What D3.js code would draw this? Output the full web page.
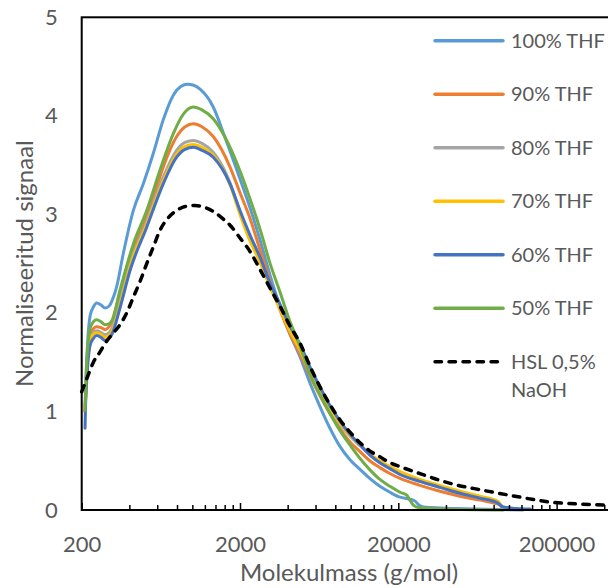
<!DOCTYPE html>
<html>
<head>
<meta charset="utf-8">
<script src="https://cdn.jsdelivr.net/npm/d3@7"></script>
<style>
  html, body { margin: 0; padding: 0; background: #ffffff; }
  svg { display: block; }
  text { font-family: Lato, "Open Sans", sans-serif; fill: #595959; }
</style>
</head>
<body>
<svg id="chart" width="608" height="588"></svg>
<script>
// Molar-mass distributions: [molar mass (g/mol), normalised signal]
const thf100 = [[210,1.05],[214,1.45],[219,1.75],[226,1.97],[237,2.06],[249,2.10],[265,2.08],[281,2.05],[298,2.07],[312,2.13],[333,2.27],[366,2.60],[424,3.04],[490,3.31],[567,3.62],[655,3.96],[758,4.21],[850,4.30],[929,4.32],[1020,4.31],[1118,4.27],[1355,4.09],[1600,3.79],[2000,3.36],[2300,3.08],[2700,2.72],[3100,2.38],[3600,2.05],[4100,1.80],[4800,1.55],[5500,1.30],[6400,1.05],[7400,0.83],[8600,0.64],[9900,0.51],[11500,0.41],[13200,0.32],[15300,0.24],[17700,0.18],[20500,0.13],[23500,0.11],[25500,0.09],[27000,0.05],[29000,0.03],[37000,0.02],[60000,0.01],[123000,0.0]];
const thf90 = [[210,1.00],[214,1.35],[219,1.62],[226,1.78],[237,1.84],[249,1.86],[265,1.85],[281,1.83],[298,1.86],[312,1.92],[349,2.20],[404,2.57],[460,2.78],[515,2.97],[580,3.22],[655,3.48],[796,3.79],[900,3.89],[1014,3.92],[1150,3.89],[1355,3.79],[1730,3.48],[2000,3.22],[2300,2.97],[2700,2.62],[3100,2.32],[3600,2.02],[4100,1.80],[4800,1.58],[5500,1.37],[6400,1.16],[7400,0.98],[8600,0.82],[9900,0.69],[11500,0.59],[13200,0.50],[15300,0.43],[17700,0.37],[20500,0.32],[27400,0.25],[36700,0.19],[49000,0.14],[65700,0.10],[80000,0.07],[88000,0.05],[92000,0.02],[118000,0.01]];
const thf80 = [[210,1.00],[214,1.33],[219,1.60],[226,1.75],[237,1.80],[249,1.82],[265,1.80],[281,1.78],[298,1.80],[312,1.85],[349,2.12],[404,2.50],[515,2.93],[655,3.38],[796,3.65],[900,3.73],[1014,3.75],[1150,3.72],[1355,3.63],[1730,3.32],[2000,3.02],[2300,2.76],[2700,2.52],[3100,2.27],[3600,2.04],[4100,1.83],[4800,1.62],[5500,1.40],[6400,1.20],[7400,1.02],[8600,0.87],[9900,0.75],[11500,0.65],[13200,0.56],[15300,0.48],[17700,0.42],[20500,0.37],[27400,0.29],[36700,0.23],[49000,0.17],[65700,0.12],[85000,0.07],[92000,0.02],[110000,0.01]];
const thf70 = [[210,1.00],[214,1.32],[219,1.58],[226,1.73],[237,1.78],[249,1.80],[265,1.78],[281,1.75],[298,1.77],[312,1.82],[349,2.08],[404,2.47],[515,2.90],[655,3.34],[796,3.61],[900,3.69],[1014,3.71],[1150,3.68],[1355,3.60],[1730,3.30],[2000,3.00],[2300,2.74],[2700,2.50],[3100,2.26],[3600,2.03],[4100,1.83],[4800,1.62],[5500,1.41],[6400,1.21],[7400,1.03],[8600,0.88],[9900,0.76],[11500,0.66],[13200,0.57],[15300,0.50],[17700,0.44],[20500,0.39],[27400,0.31],[36700,0.25],[49000,0.19],[65700,0.14],[85000,0.09],[92000,0.03],[110000,0.01]];
const thf60 = [[210,0.83],[211,1.00],[214,1.25],[219,1.50],[226,1.67],[237,1.74],[249,1.77],[265,1.75],[281,1.72],[298,1.74],[312,1.79],[349,2.05],[404,2.43],[515,2.87],[655,3.31],[796,3.58],[900,3.66],[1014,3.68],[1150,3.65],[1355,3.58],[1730,3.31],[2000,3.04],[2300,2.80],[2700,2.55],[3100,2.30],[3600,2.08],[4100,1.88],[4800,1.68],[5500,1.46],[6400,1.25],[7400,1.06],[8600,0.90],[9900,0.77],[11500,0.66],[13200,0.56],[15300,0.48],[17700,0.42],[20500,0.36],[27400,0.29],[36700,0.23],[49000,0.17],[65700,0.12],[85000,0.07],[92000,0.03],[110000,0.015],[136000,0.01]];
const thf50 = [[210,1.01],[214,1.40],[219,1.68],[226,1.84],[237,1.91],[249,1.93],[265,1.91],[281,1.88],[298,1.89],[312,1.93],[349,2.23],[424,2.70],[515,3.04],[625,3.45],[758,3.82],[880,4.02],[1014,4.09],[1150,4.06],[1355,3.97],[1600,3.79],[2000,3.44],[2300,3.17],[2700,2.83],[3100,2.50],[3600,2.20],[4100,1.93],[4800,1.66],[5500,1.39],[6400,1.17],[7400,0.98],[8600,0.80],[9900,0.66],[11500,0.52],[13200,0.41],[15300,0.31],[17700,0.24],[20500,0.18],[22600,0.15],[23700,0.10],[24900,0.05],[27000,0.025],[40000,0.01],[92000,0.0]];
const hslNaoh = [[200,1.20],[215,1.33],[226,1.42],[237,1.50],[260,1.60],[281,1.69],[310,1.78],[349,1.88],[385,2.00],[424,2.16],[470,2.33],[515,2.50],[570,2.68],[625,2.84],[700,2.96],[796,3.04],[900,3.08],[1039,3.09],[1200,3.07],[1355,3.03],[1550,2.96],[1730,2.89],[2000,2.76],[2300,2.63],[2700,2.43],[3100,2.25],[3600,2.06],[4100,1.88],[4800,1.69],[5500,1.47],[6400,1.25],[7400,1.07],[8600,0.91],[9900,0.79],[11500,0.68],[13200,0.60],[15300,0.54],[17700,0.48],[20500,0.44],[27400,0.37],[36700,0.30],[42500,0.27],[68600,0.20],[118000,0.13],[182000,0.08],[280000,0.06],[400000,0.05]];

const seriesNames  = ["100% THF", "90% THF", "80% THF", "70% THF", "60% THF", "50% THF", "HSL 0,5%\nNaOH"];
const seriesData   = [thf100, thf90, thf80, thf70, thf60, thf50, hslNaoh];
const seriesColors = ["#5B9BD5", "#ED7D31", "#A5A5A5", "#FFC000", "#4472C4", "#70AD47", "#000000"];
const seriesDashed = [false, false, false, false, false, false, true];

const xTickValues = [200, 2000, 20000, 200000];
const yTickValues = [0, 1, 2, 3, 4, 5];
const xDomain = [200, 500000];
const yDomain = [0, 5];
const xTitle = "Molekulmass (g/mol)";
const yTitle = "Normaliseeritud signaal";

const svg = d3.select("#chart");
const plot = { left: 81.7, top: 17.3, right: 619.6, bottom: 510 };

const x = d3.scaleLog().domain(xDomain).range([plot.left, plot.right]);
const y = d3.scaleLinear().domain(yDomain).range([plot.bottom, plot.top]);

// series lines
const line = d3.line()
  .x(d => x(d[0]))
  .y(d => y(d[1]))
  .curve(d3.curveMonotoneX);

const gLines = svg.append("g");
seriesData.forEach((data, i) => {
  gLines.append("path")
    .datum(data)
    .attr("d", line)
    .attr("fill", "none")
    .attr("stroke", seriesColors[i])
    .attr("stroke-width", seriesDashed[i] ? 3.5 : 3)
    .attr("stroke-linecap", "round")
    .attr("stroke-linejoin", "round")
    .attr("stroke-dasharray", seriesDashed[i] ? "6.5,7.5" : null);
});

// plot-area frame (left, top, bottom edges visible)
svg.append("rect")
  .attr("x", plot.left).attr("y", plot.top)
  .attr("width", plot.right - plot.left)
  .attr("height", plot.bottom - plot.top)
  .attr("fill", "none")
  .attr("stroke", "#000")
  .attr("stroke-width", 2);

// x axis: log ticks pointing inward, labels only at decades from 200
const minorTicks = [];
for (let base = xDomain[0]; base < xDomain[1]; base *= 10) {
  for (let k = 2; k <= 9; k++) {
    const v = base * k;
    if (v <= xDomain[1]) minorTicks.push(v);
  }
}
const xAxisMinor = d3.axisBottom(x).tickValues(minorTicks).tickSize(-5).tickFormat("");
const xAxisMajor = d3.axisBottom(x).tickValues(xTickValues).tickSize(-7).tickFormat(d3.format("d")).tickPadding(0);

const gxMinor = svg.append("g").attr("transform", `translate(0,${plot.bottom})`).call(xAxisMinor);
const gxMajor = svg.append("g").attr("transform", `translate(0,${plot.bottom})`).call(xAxisMajor);
[gxMinor, gxMajor].forEach(g => {
  g.select(".domain").remove();
  g.selectAll(".tick line").attr("stroke", "#000").attr("stroke-width", 1.5);
});
gxMajor.selectAll(".tick text")
  .attr("y", 42)
  .attr("dy", 0)
  .style("font-size", "22px")
  .style("font-family", "Lato, sans-serif")
  .attr("fill", "#595959");

// y axis: labels only
const yAxis = d3.axisLeft(y).tickValues(yTickValues).tickSize(0).tickPadding(24).tickFormat(d3.format("d"));
const gy = svg.append("g").attr("transform", `translate(${plot.left},0)`).call(yAxis);
gy.select(".domain").remove();
gy.selectAll(".tick text")
  .style("font-size", "22px")
  .style("font-family", "Lato, sans-serif")
  .attr("fill", "#595959");

// axis titles
svg.append("text")
  .attr("x", 349).attr("y", 581)
  .attr("text-anchor", "middle")
  .style("font-size", "24px")
  .text(xTitle);

svg.append("text")
  .attr("transform", `translate(33,${(plot.top + plot.bottom) / 2}) rotate(-90)`)
  .attr("text-anchor", "middle")
  .style("font-size", "24px")
  .text(yTitle);

// legend
const legend = svg.append("g");
seriesNames.forEach((name, i) => {
  const ly = 40.7 + i * 53.5;
  legend.append("line")
    .attr("x1", 435).attr("x2", 503)
    .attr("y1", ly).attr("y2", ly)
    .attr("stroke", seriesColors[i])
    .attr("stroke-width", 3.5)
    .attr("stroke-linecap", "round")
    .attr("stroke-dasharray", seriesDashed[i] ? "6.5,7.5" : null);
  const t = legend.append("text")
    .attr("x", 511).attr("y", ly + 7.2)
    .style("font-size", "20px");
  name.split("\n").forEach((part, j) => {
    t.append("tspan").attr("x", 511).attr("dy", j === 0 ? 0 : 28).text(part);
  });
});
</script>
</body>
</html>
